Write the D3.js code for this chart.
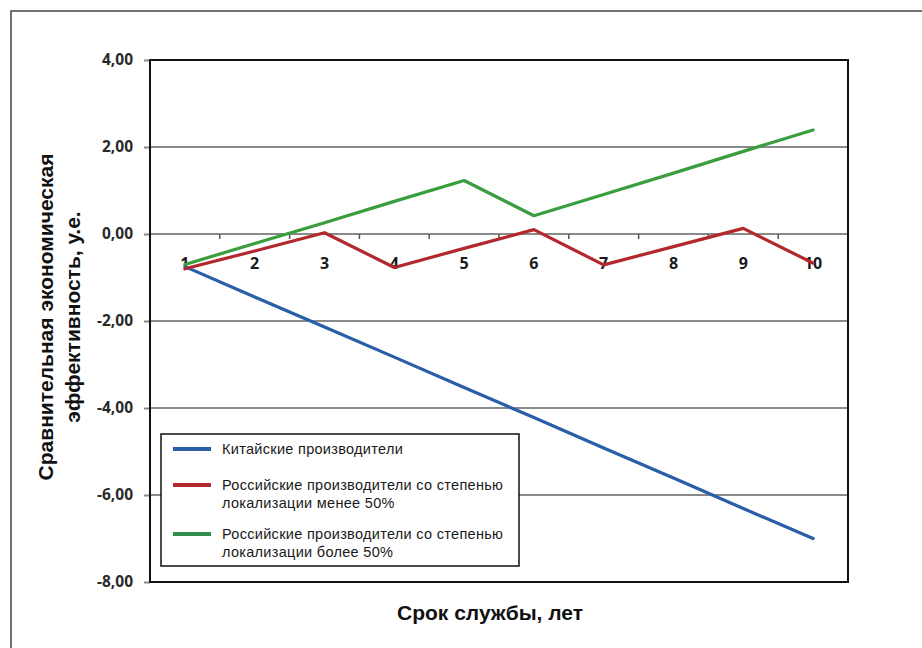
<!DOCTYPE html>
<html>
<head>
<meta charset="utf-8">
<script src="https://cdn.jsdelivr.net/npm/d3@7"></script>
<style>
  html, body { margin: 0; padding: 0; background: #fff; }
  svg { display: block; }
</style>
</head>
<body>
<svg id="chart" width="922" height="648"></svg>
<script>
// Service life, years
const years = [1, 2, 3, 4, 5, 6, 7, 8, 9, 10];
// Comparative economic efficiency, conventional units
const chinese = [-0.75, -1.45, -2.14, -2.83, -3.53, -4.22, -4.92, -5.61, -6.31, -7.00];
const russianLow = [-0.80, -0.39, 0.03, -0.77, -0.33, 0.10, -0.71, -0.29, 0.13, -0.67];
const russianHigh = [-0.70, -0.22, 0.26, 0.75, 1.23, 0.42, 0.91, 1.40, 1.90, 2.39];
const yTicks = [4, 2, 0, -2, -4, -6, -8];
const yTickLabels = ["4,00", "2,00", "0,00", "-2,00", "-4,00", "-6,00", "-8,00"];

const seriesNames = [
  ["Китайские производители"],
  ["Российские производители со степенью", "локализации менее 50%"],
  ["Российские производители со степенью", "локализации более 50%"]
];
const seriesColors = ["#2b5ea8", "#b3282d", "#3a9e3f"];
const legendColors = ["#2b5ea8", "#b3282d", "#2f8f4a"];
const seriesData = [chinese, russianLow, russianHigh];

const svg = d3.select("#chart");
const plot = { left: 150, top: 60, right: 848, bottom: 582 };

// Outer frame
svg.append("rect")
  .attr("x", 11).attr("y", 11)
  .attr("width", 940).attr("height", 660)
  .attr("fill", "none").attr("stroke", "#444").attr("stroke-width", 1.5);

const x = d3.scaleBand().domain(years).range([plot.left, plot.right]).padding(0);
const y = d3.scaleLinear().domain([-8, 4]).range([plot.bottom, plot.top]);

// Horizontal gridlines
svg.append("g").selectAll("line")
  .data(yTicks.filter(v => v !== 4 && v !== -8))
  .join("line")
  .attr("x1", plot.left).attr("x2", plot.right)
  .attr("y1", d => y(d)).attr("y2", d => y(d))
  .attr("stroke", "#8a8a8a").attr("stroke-width", 2);

// Value axis
const yAxis = d3.axisLeft(y)
  .tickValues(yTicks)
  .tickSize(6)
  .tickPadding(11)
  .tickFormat((d, i) => yTickLabels[i]);
const gy = svg.append("g")
  .attr("transform", `translate(${plot.left},0)`)
  .call(yAxis);
gy.select(".domain").remove();
gy.selectAll(".tick line").attr("stroke", "#8a8a8a").attr("stroke-width", 2);
gy.selectAll(".tick text")
  .attr("fill", "#2a2a2a")
  .style("font-family", "'Open Sans', sans-serif")
  .style("font-weight", "700")
  .style("font-size", "15.5px");

// Category axis along zero line, ticks at band boundaries
const gx = svg.append("g")
  .attr("transform", `translate(0,${y(0)})`);
gx.selectAll("line.tick")
  .data(years)
  .join("line")
  .attr("class", "tick")
  .attr("x1", d => x(d) + x.bandwidth())
  .attr("x2", d => x(d) + x.bandwidth())
  .attr("y1", 0).attr("y2", 5)
  .attr("stroke", "#555").attr("stroke-width", 1.5);
gx.selectAll("text")
  .data(years)
  .join("text")
  .attr("x", d => x(d) + x.bandwidth() / 2)
  .attr("y", 34.5)
  .attr("text-anchor", "middle")
  .attr("fill", "#1a1a1a")
  .style("font-family", "'Open Sans', sans-serif")
  .style("font-weight", "700")
  .style("font-size", "16px")
  .text(d => d);

// Series lines
const line = d3.line()
  .x((d, i) => x(years[i]) + x.bandwidth() / 2)
  .y(d => y(d));
svg.append("g").selectAll("path")
  .data(seriesData)
  .join("path")
  .attr("d", d => line(d))
  .attr("fill", "none")
  .attr("stroke", (d, i) => seriesColors[i])
  .attr("stroke-width", 3.2)
  .attr("stroke-linejoin", "round")
  .attr("stroke-linecap", "round");

// Plot area border
svg.append("rect")
  .attr("x", plot.left).attr("y", plot.top)
  .attr("width", plot.right - plot.left).attr("height", plot.bottom - plot.top)
  .attr("fill", "none").attr("stroke", "#111").attr("stroke-width", 2);

// Legend
const legend = svg.append("g");
legend.append("rect")
  .attr("x", 161).attr("y", 434).attr("width", 358).attr("height", 132)
  .attr("fill", "#fff").attr("stroke", "#111").attr("stroke-width", 1.5);
const legendY = [449, 485, 534];
seriesNames.forEach((lines, i) => {
  legend.append("line")
    .attr("x1", 173).attr("x2", 211)
    .attr("y1", legendY[i]).attr("y2", legendY[i])
    .attr("stroke", legendColors[i]).attr("stroke-width", 4);
  lines.forEach((t, j) => {
    legend.append("text")
      .attr("x", 222).attr("y", legendY[i] + 5 + j * 17.5)
      .attr("fill", "#1a1a1a")
      .style("font-family", "'Liberation Sans', Arial, sans-serif")
      .style("font-size", "14.5px")
      .style("letter-spacing", "0.3px")
      .text(t);
  });
});

// Axis titles
svg.append("text")
  .attr("x", 490).attr("y", 620)
  .attr("text-anchor", "middle")
  .attr("fill", "#111")
  .style("font-family", "'Liberation Sans', Arial, sans-serif")
  .style("font-weight", "700")
  .style("font-size", "21px")
  .text("Срок службы, лет");

const yTitle = svg.append("text")
  .attr("transform", "translate(0,317) rotate(-90)")
  .attr("text-anchor", "middle")
  .attr("fill", "#111")
  .style("font-family", "'Liberation Sans', Arial, sans-serif")
  .style("font-weight", "700")
  .style("font-size", "21px");
yTitle.append("tspan").attr("x", 0).attr("y", 53).text("Сравнительная экономическая");
yTitle.append("tspan").attr("x", 0).attr("y", 80).text("эффективность, у.е.");
</script>
</body>
</html>
